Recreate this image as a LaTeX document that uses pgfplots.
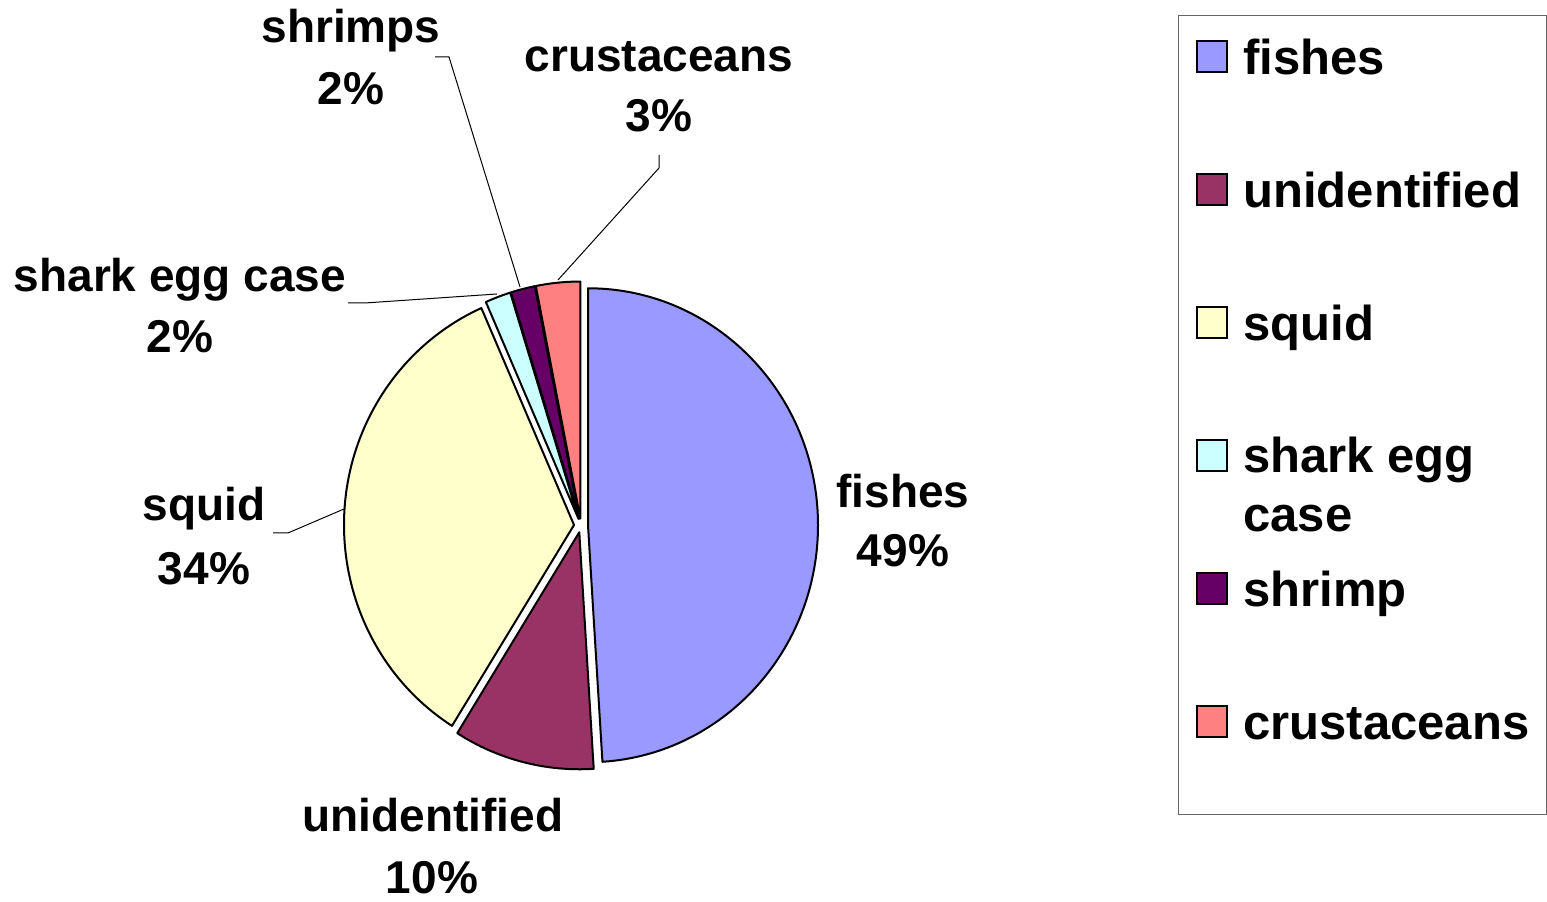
\documentclass[border=0pt]{standalone}
\usepackage{pgfplots}
\pgfplotsset{compat=1.18}
\usepackage{pgfplotstable}
\usepackage{fontspec}
\setmainfont{Liberation Sans}

\definecolor{cFish}{HTML}{9999FF}
\definecolor{cUnid}{HTML}{993366}
\definecolor{cSquid}{HTML}{FFFFCC}
\definecolor{cShark}{HTML}{CCFFFF}
\definecolor{cShrimp}{HTML}{660066}
\definecolor{cCrust}{HTML}{FF8080}

% share of the diet, clockwise from 12 o'clock
\pgfplotstableread{
name         value col
fishes       49.0  cFish
unidentified 9.9   cUnid
squid        34.5  cSquid
shark        1.8   cShark
shrimp       1.7   cShrimp
crustaceans  3.1   cCrust
}\piedata

\newcommand\lab{\fontsize{23}{30}\selectfont\bfseries}
\newcommand\leg{\fontsize{24.5}{30}\selectfont\bfseries}

\begin{document}
\begin{tikzpicture}
\begin{axis}[
  hide axis, scale only axis,
  width=773.5pt, height=449pt,
  xmin=0, xmax=1547, ymin=0, ymax=898,
  clip=false
]
\draw[draw=none] (axis cs:0,0) rectangle (axis cs:1547,898);

% slices
\pgfplotsextra{
  \pgfplotstablegetrowsof{\piedata}
  \pgfmathtruncatemacro{\nrows}{\pgfplotsretval-1}
  \xdef\angA{90}
  \foreach \i in {0,...,\nrows}{
    \pgfplotstablegetelem{\i}{value}\of\piedata \let\sval\pgfplotsretval
    \pgfplotstablegetelem{\i}{col}\of\piedata \let\scol\pgfplotsretval
    \pgfmathsetmacro{\angB}{\angA-3.6*\sval}
    \pgfmathsetmacro{\angM}{(\angA+\angB)/2}
    \pgfmathsetmacro{\ax}{581+7*cos(\angM)}
    \pgfmathsetmacro{\ay}{372.5+7*sin(\angM)}
    \filldraw[fill=\scol, draw=black, line width=1pt, line join=round]
      (axis cs:\ax,\ay) -- ++(\angA:115pt and 118.5pt)
      arc[start angle=\angA, end angle=\angB, x radius=115pt, y radius=118.5pt]
      -- cycle;
    \xdef\angA{\angB}
  }
}

% leader lines
\draw[line width=0.5pt] (axis cs:435,841) -- (axis cs:449,841) -- (axis cs:520,611);
\draw[line width=0.5pt] (axis cs:659,743) -- (axis cs:659,730) -- (axis cs:558,618);
\draw[line width=0.5pt] (axis cs:348,595) -- (axis cs:365,595) -- (axis cs:497,604);
\draw[line width=0.5pt] (axis cs:273,365) -- (axis cs:288,365) -- (axis cs:344,389);

% slice labels
\node[font=\lab, anchor=base] at (axis cs:903,390) {fishes};
\node[font=\lab, anchor=base] at (axis cs:903,331) {49\%};
\node[font=\lab, anchor=base] at (axis cs:433,66) {unidentified};
\node[font=\lab, anchor=base] at (axis cs:432,4) {10\%};
\node[font=\lab, anchor=base] at (axis cs:204,377) {squid};
\node[font=\lab, anchor=base] at (axis cs:204,313) {34\%};
\node[font=\lab, anchor=base] at (axis cs:180,606) {shark egg case};
\node[font=\lab, anchor=base] at (axis cs:180,545) {2\%};
\node[font=\lab, anchor=base] at (axis cs:351,855) {shrimps};
\node[font=\lab, anchor=base] at (axis cs:351,793) {2\%};
\node[font=\lab, anchor=base] at (axis cs:659,826) {crustaceans};
\node[font=\lab, anchor=base] at (axis cs:659,766) {3\%};

% legend
\draw[line width=0.5pt, draw=black!60] (axis cs:1178.5,882) rectangle (axis cs:1546.5,83);
\filldraw[fill=cFish, line width=1pt] (axis cs:1197,826) rectangle (axis cs:1227,857);
\filldraw[fill=cUnid, line width=1pt] (axis cs:1197,693) rectangle (axis cs:1227,724);
\filldraw[fill=cSquid, line width=1pt] (axis cs:1197,560) rectangle (axis cs:1227,591);
\filldraw[fill=cShark, line width=1pt] (axis cs:1197,427) rectangle (axis cs:1227,458);
\filldraw[fill=cShrimp, line width=1pt] (axis cs:1197,294) rectangle (axis cs:1227,325);
\filldraw[fill=cCrust, line width=1pt] (axis cs:1197,161) rectangle (axis cs:1227,192);
\node[font=\leg, anchor=base west, inner sep=0pt] at (axis cs:1243,823) {fishes};
\node[font=\leg, anchor=base west, inner sep=0pt] at (axis cs:1243,690) {unidentified};
\node[font=\leg, anchor=base west, inner sep=0pt] at (axis cs:1243,557) {squid};
\node[font=\leg, anchor=base west, inner sep=0pt] at (axis cs:1243,425) {shark egg};
\node[font=\leg, anchor=base west, inner sep=0pt] at (axis cs:1243,366) {case};
\node[font=\leg, anchor=base west, inner sep=0pt] at (axis cs:1243,291) {shrimp};
\node[font=\leg, anchor=base west, inner sep=0pt] at (axis cs:1243,158) {crustaceans};
\end{axis}
\end{tikzpicture}
\end{document}
